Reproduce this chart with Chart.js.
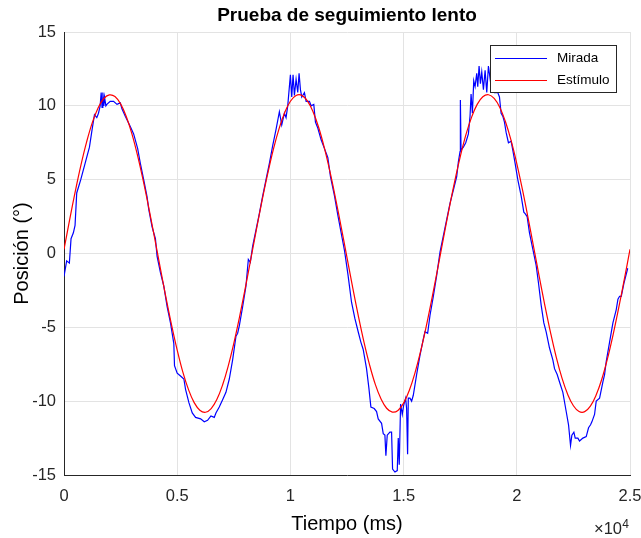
<!DOCTYPE html>
<html>
<head>
<meta charset="utf-8">
<title>Prueba de seguimiento lento</title>
<script src="https://cdn.jsdelivr.net/npm/chart.js@4.4.1/dist/chart.umd.min.js"></script>
<style>
  html, body { margin: 0; padding: 0; background: #fff; }
  canvas { display: block; }
</style>
</head>
<body>
<canvas id="trackChart" width="641" height="538"></canvas>
<script>
// seguimiento lento: estímulo sinusoidal vs. mirada
const FONT = "'Liberation Sans', Arial, sans-serif";
const INK = '#262626';
const TITLE = 'Prueba de seguimiento lento';

// Estímulo (red), read every 250 ms
const stimTime = [
  0, 250, 500, 750, 1000, 1250, 1500, 1750, 2000, 2250,
  2500, 2750, 3000, 3250, 3500, 3750, 4000, 4250, 4500, 4750,
  5000, 5250, 5500, 5750, 6000, 6250, 6500, 6750, 7000, 7250,
  7500, 7750, 8000, 8250, 8500, 8750, 9000, 9250, 9500, 9750,
  10000, 10250, 10500, 10750, 11000, 11250, 11500, 11750, 12000, 12250,
  12500, 12750, 13000, 13250, 13500, 13750, 14000, 14250, 14500, 14750,
  15000, 15250, 15500, 15750, 16000, 16250, 16500, 16750, 17000, 17250,
  17500, 17750, 18000, 18250, 18500, 18750, 19000, 19250, 19500, 19750,
  20000, 20250, 20500, 20750, 21000, 21250, 21500, 21750, 22000, 22250,
  22500, 22750, 23000, 23250, 23500, 23750, 24000, 24250, 24500, 24750,
  25000
];
const stimPos = [
  0.28, 2.29, 4.22, 6.00, 7.56, 8.86, 9.84, 10.48, 10.74, 10.63,
  10.13, 9.28, 8.10, 6.63, 4.93, 3.05, 1.07, -0.96, -2.95, -4.83,
  -6.54, -8.03, -9.22, -10.10, -10.61, -10.75, -10.50, -9.89, -8.92, -7.64,
  -6.09, -4.32, -2.40, -0.39, 1.63, 3.59, 5.42, 7.07, 8.46, 9.55,
  10.31, 10.70, 10.71, 10.34, 9.60, 8.53, 7.15, 5.52, 3.69, 1.74,
  -0.28, -2.29, -4.22, -6.00, -7.56, -8.86, -9.84, -10.48, -10.74, -10.63,
  -10.13, -9.28, -8.10, -6.63, -4.93, -3.05, -1.07, 0.96, 2.95, 4.83,
  6.54, 8.03, 9.22, 10.10, 10.61, 10.75, 10.50, 9.89, 8.92, 7.64,
  6.09, 4.32, 2.40, 0.39, -1.63, -3.59, -5.42, -7.07, -8.46, -9.55,
  -10.31, -10.70, -10.71, -10.34, -9.60, -8.53, -7.15, -5.52, -3.69, -1.74,
  0.28
];

// Mirada (blue), irregular samples
const gazeTime = [
  0, 118, 237, 311, 414, 488, 562, 740, 932, 1124,
  1242, 1346, 1449, 1523, 1597, 1642, 1680, 1716, 1760, 1790,
  1849, 1893, 2040, 2189, 2340, 2485, 2559, 2707, 2928, 3076,
  3254, 3372, 3520, 3668, 3742, 3890, 4038, 4112, 4260, 4407,
  4555, 4703, 4851, 4881, 4999, 5147, 5295, 5369, 5517, 5665,
  5812, 6034, 6195, 6342, 6490, 6637, 6711, 6858, 7006, 7153,
  7301, 7448, 7596, 7670, 7743, 7891, 8038, 8142, 8230, 8333,
  8481, 8628, 8776, 8923, 9071, 9218, 9366, 9513, 9617, 9735,
  9808, 9882, 10000, 10059, 10118, 10177, 10251, 10324, 10383, 10443,
  10502, 10620, 10694, 10841, 10915, 11033, 11106, 11210, 11357, 11505,
  11652, 11770, 11947, 12095, 12242, 12390, 12540, 12700, 12847, 12994,
  13112, 13215, 13363, 13466, 13555, 13702, 13806, 13879, 14027, 14101,
  14174, 14218, 14277, 14395, 14469, 14513, 14617, 14720, 14764, 14808,
  14867, 14941, 15000, 15089, 15133, 15177, 15207, 15280, 15354, 15428,
  15575, 15723, 15870, 15944, 16062, 16165, 16313, 16460, 16608, 16755,
  16903, 17050, 17198, 17345, 17419, 17493, 17508, 17537, 17640, 17744,
  17862, 17935, 17980, 18039, 18098, 18157, 18230, 18275, 18334, 18393,
  18452, 18526, 18600, 18673, 18747, 18866, 19012, 19160, 19234, 19307,
  19381, 19455, 19528, 19631, 19750, 19823, 19926, 20044, 20192, 20310,
  20368, 20457, 20560, 20708, 20855, 20958, 21076, 21194, 21297, 21445,
  21592, 21666, 21784, 21887, 22034, 22182, 22285, 22373, 22432, 22521,
  22580, 22697, 22771, 22919, 23066, 23169, 23258, 23317, 23434, 23508,
  23656, 23803, 23877, 23951, 24098, 24245, 24393, 24467, 24541, 24615,
  24733, 24900
];
const gazePos = [
  -1.55, -0.5, -0.65, 1.0, 1.4, 1.9, 4.1, 5.0, 6.1, 7.2,
  8.4, 9.4, 9.2, 9.5, 10.0, 10.9, 9.9, 10.9, 10.0, 10.6,
  10.0, 10.1, 10.3, 10.3, 10.1, 10.2, 9.8, 9.3, 8.6, 8.1,
  7.1, 6.1, 5.0, 3.85, 3.0, 1.8, 1.0, -0.2, -1.3, -2.2,
  -3.6, -4.7, -6.1, -7.6, -8.1, -8.3, -8.5, -9.2, -10.1, -10.8,
  -11.1, -11.2, -11.4, -11.3, -11.0, -11.1, -10.8, -10.4, -9.9, -9.4,
  -8.5, -7.2, -5.6, -5.4, -4.9, -3.6, -2.2, -0.4, -0.6, 0.5,
  1.6, 2.7, 3.9, 5.0, 6.1, 7.3, 8.4, 9.6, 8.7, 9.5,
  9.2, 10.0, 12.1, 10.6, 12.1, 10.7, 11.8, 10.9, 12.2, 11.1,
  10.6, 10.9, 10.3, 10.3, 10.0, 10.1, 8.9, 8.5, 7.7, 7.1,
  6.5, 5.2, 3.9, 2.6, 1.4, 0.2, -1.4, -3.3, -4.4, -5.3,
  -6.0, -6.5, -7.8, -9.1, -10.4, -10.5, -10.7, -11.2, -11.5, -12.2,
  -12.3, -13.7, -12.3, -12.1, -12.1, -14.6, -14.8, -14.7, -12.5, -14.3,
  -10.2, -10.9, -10.3, -9.8, -10.5, -13.6, -9.8, -9.8, -10.0, -9.6,
  -8.2, -6.9, -5.8, -5.3, -5.4, -4.2, -2.9, -1.5, 0.1, 1.2,
  2.3, 3.4, 4.3, 5.2, 6.2, 6.9, 10.4, 7.0, 7.2, 7.5,
  8.1, 9.3, 10.8, 9.5, 11.7, 11.3, 12.2, 11.3, 12.7, 11.5,
  12.3, 11.1, 12.4, 10.9, 12.7, 11.3, 10.9, 10.9, 10.6, 9.5,
  9.3, 8.9, 8.2, 7.5, 7.6, 7.0, 6.1, 5.0, 3.9, 2.8,
  2.7, 2.5, 1.4, 0.3, -0.8, -2.0, -3.5, -4.7, -5.3, -6.4,
  -7.2, -7.8, -8.2, -8.7, -9.4, -10.7, -11.6, -13.0, -12.3, -12.1,
  -12.5, -12.5, -12.7, -12.5, -12.4, -11.8, -11.6, -11.4, -10.9, -10.0,
  -9.8, -8.7, -8.2, -7.3, -6.0, -4.7, -3.8, -3.1, -2.9, -2.9,
  -2.0, -1.0
];

const xTicks = [0, 5000, 10000, 15000, 20000, 25000];
const yTicks = [-15, -10, -5, 0, 5, 10, 15];

const toPoints = (xs, ys) => xs.map((x, i) => ({ x: x, y: ys[i] }));

// title centred over the axes, like MATLAB does
const axesTitle = {
  id: 'axesTitle',
  afterDraw(chart) {
    const { ctx, chartArea } = chart;
    ctx.save();
    ctx.fillStyle = '#000';
    ctx.font = 'bold 19px ' + FONT;
    ctx.textAlign = 'center';
    ctx.textBaseline = 'middle';
    ctx.fillText(TITLE, (chartArea.left + chartArea.right) / 2, chartArea.top - 16);
    ctx.restore();
  }
};

// MATLAB-style legend drawn inside the axes (top right)
const boxLegend = {
  id: 'boxLegend',
  afterDatasetsDraw(chart) {
    const { ctx, chartArea } = chart;
    const w = 126, h = 47;
    const x0 = chartArea.right - 14 - w;
    const y0 = chartArea.top + 13;
    ctx.save();
    ctx.fillStyle = '#fff';
    ctx.fillRect(x0, y0, w, h);
    ctx.strokeStyle = INK;
    ctx.lineWidth = 1;
    ctx.strokeRect(x0 + 0.5, y0 + 0.5, w, h);
    ctx.font = '13.5px ' + FONT;
    ctx.textBaseline = 'middle';
    chart.data.datasets.forEach((ds, i) => {
      const ly = y0 + 13.5 + i * 22;
      ctx.strokeStyle = ds.borderColor;
      ctx.beginPath();
      ctx.moveTo(x0 + 5, ly);
      ctx.lineTo(x0 + 57, ly);
      ctx.stroke();
      ctx.fillStyle = '#000';
      ctx.fillText(ds.label, x0 + 67, ly);
    });
    ctx.restore();
  }
};

// x10^4 exponent under the right end of the x axis
const axisExponent = {
  id: 'axisExponent',
  afterDraw(chart) {
    const { ctx, chartArea } = chart;
    ctx.save();
    ctx.fillStyle = INK;
    ctx.textAlign = 'right';
    ctx.textBaseline = 'alphabetic';
    ctx.font = '12px ' + FONT;
    ctx.fillText('4', chartArea.right - 1, chartArea.bottom + 53);
    ctx.font = '16.5px ' + FONT;
    ctx.fillText('\u00d710', chartArea.right - 8, chartArea.bottom + 59);
    ctx.restore();
  }
};

const chart = new Chart(document.getElementById('trackChart'), {
  type: 'line',
  data: {
    datasets: [
      {
        label: 'Mirada',
        data: toPoints(gazeTime, gazePos),
        borderColor: '#0000ff',
        borderWidth: 1.2,
        pointRadius: 0,
        tension: 0,
        order: 2
      },
      {
        label: 'Estímulo',
        data: toPoints(stimTime, stimPos),
        borderColor: '#ff0000',
        borderWidth: 1.2,
        pointRadius: 0,
        tension: 0.4,
        order: 1
      }
    ]
  },
  options: {
    responsive: false,
    animation: false,
    layout: { padding: { left: 0, right: 0, top: 32, bottom: 0 } },
    plugins: {
      legend: { display: false },
      tooltip: { enabled: false },
      title: { display: false }
    },
    scales: {
      x: {
        type: 'linear',
        min: 0, max: 25000,
        afterBuildTicks: s => { s.ticks = xTicks.map(v => ({ value: v })); },
        afterFit: s => { s.height = 63; s.paddingLeft = 0; s.paddingRight = 11; },
        ticks: {
          color: INK,
          font: { family: FONT, size: 16.5 },
          padding: 12,
          maxRotation: 0,
          callback: v => String(v / 10000)
        },
        grid: { color: '#e3e3e3', drawTicks: false },
        border: { color: INK, width: 1 },
        title: {
          display: true,
          text: 'Tiempo (ms)',
          color: '#000',
          font: { family: FONT, size: 20 },
          padding: { top: 0, bottom: 2 }
        }
      },
      y: {
        min: -15, max: 15,
        afterBuildTicks: s => { s.ticks = yTicks.map(v => ({ value: v })); },
        afterFit: s => { s.width = 64; s.paddingTop = 0; s.paddingBottom = 0; },
        ticks: {
          color: INK,
          font: { family: FONT, size: 16.5 },
          padding: 8,
          callback: v => String(v)
        },
        grid: { color: '#e3e3e3', drawTicks: false },
        border: { color: INK, width: 1 },
        title: {
          display: true,
          text: 'Posición (°)',
          color: '#000',
          font: { family: FONT, size: 20 },
          padding: { top: 10, bottom: 0 }
        }
      }
    }
  },
  plugins: [axesTitle, boxLegend, axisExponent]
});
</script>
</body>
</html>
